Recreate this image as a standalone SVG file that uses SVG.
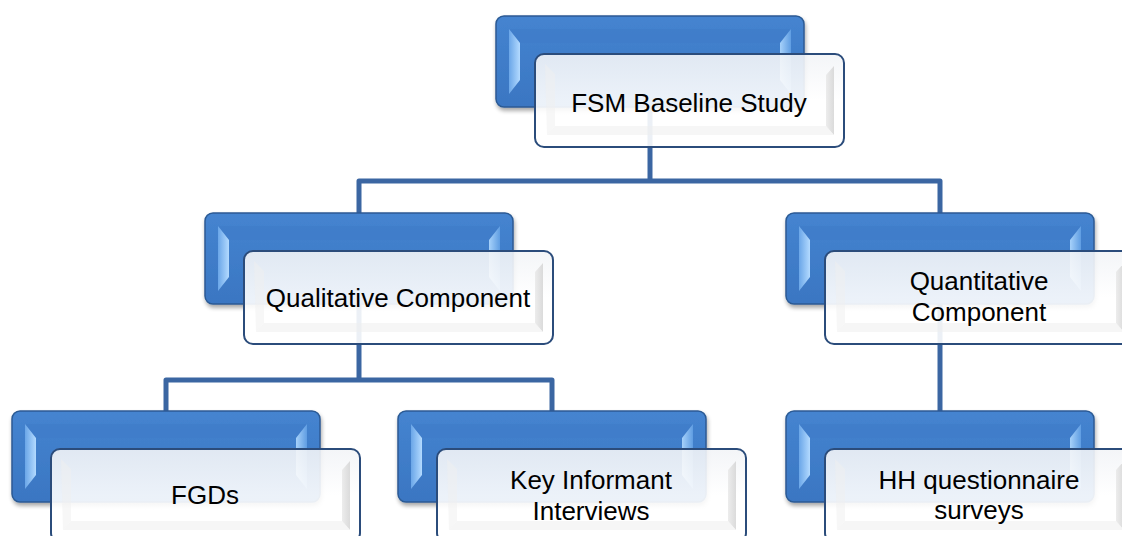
<svg xmlns="http://www.w3.org/2000/svg" xmlns:xlink="http://www.w3.org/1999/xlink" width="1122" height="536" viewBox="0 0 1122 536">
  <style>
    .conn { fill: none; stroke: #3B66A2; stroke-width: 5; stroke-linejoin: round; }
    .lbl { font-family: "Liberation Sans", Arial, sans-serif; font-size: 26px; fill: #000; text-anchor: middle; }
  </style>
  <defs>
    <linearGradient id="gBlue" x1="0" y1="0" x2="0" y2="1">
      <stop offset="0" stop-color="#4584D0"/>
      <stop offset="1" stop-color="#3A76C2"/>
    </linearGradient>
    <linearGradient id="gBevL" x1="0" y1="0" x2="1" y2="0">
      <stop offset="0" stop-color="#6AA6E8"/>
      <stop offset="1" stop-color="#B3DAFF"/>
    </linearGradient>
    <linearGradient id="gBevR" x1="0" y1="0" x2="1" y2="0">
      <stop offset="0" stop-color="#A6D1FA"/>
      <stop offset="1" stop-color="#5F9DE2"/>
    </linearGradient>
    <linearGradient id="gWhite" x1="0" y1="0" x2="0" y2="1">
      <stop offset="0" stop-color="#F2F4F7"/>
      <stop offset="0.5" stop-color="#FFFFFF"/>
      <stop offset="1" stop-color="#FFFFFF"/>
    </linearGradient>
    <linearGradient id="gWBevR" x1="0" y1="0" x2="1" y2="0">
      <stop offset="0" stop-color="#E8E8E8"/>
      <stop offset="1" stop-color="#D2D2D2"/>
    </linearGradient>
    <filter id="shadow" x="-5%" y="-10%" width="115%" height="130%">
      <feGaussianBlur in="SourceAlpha" stdDeviation="2"/>
      <feOffset dx="1" dy="3" result="b"/>
      <feComponentTransfer><feFuncA type="linear" slope="0.35"/></feComponentTransfer>
      <feMerge><feMergeNode/><feMergeNode in="SourceGraphic"/></feMerge>
    </filter>
    <g id="blueBox">
      <rect x="0" y="0" width="308" height="91" rx="8" fill="url(#gBlue)" stroke="#2C5A94" stroke-width="1.5" filter="url(#shadow)"/>
      <polygon points="13,13 295,13 284,27 24,27" fill="#3F7CC8" fill-opacity="0.6"/>
      <polygon points="13,13 24,27 24,64 13,78" fill="url(#gBevL)"/>
      <polygon points="295,13 284,27 284,64 295,78" fill="url(#gBevR)"/>
    </g>
    <g id="whiteBox">
      <rect x="0" y="0" width="309" height="93" rx="9" fill="url(#gWhite)" fill-opacity="0.9" stroke="#2B4C7B" stroke-width="2"/>
      <polygon points="299,12 291,21 291,72 299,81" fill="url(#gWBevR)" fill-opacity="0.8"/>
      <polygon points="12,81 299,81 291,72 20,72" fill="#EDEDED" fill-opacity="0.5"/>
      <polygon points="10,10 20,20 20,72 12,81" fill="#F0F0F0" fill-opacity="0.5"/>
    </g>
  </defs>
  <rect width="1122" height="536" fill="#FFFFFF"/>

  <g id="connectors">
    <path class="conn" d="M650,100 V181"/>
    <path class="conn" d="M359,213 V181 H940 V213"/>
    <path class="conn" d="M359,300 V380"/>
    <path class="conn" d="M166,411 V380 H552 V411"/>
    <path class="conn" d="M940,300 V411"/>
  </g>

  <g id="node-fsm">
    <use xlink:href="#blueBox" x="496" y="16"/>
    <use xlink:href="#whiteBox" x="535" y="54"/>
    <text class="lbl" x="689" y="112">FSM Baseline Study</text>
  </g>
  <g id="node-qualitative">
    <use xlink:href="#blueBox" x="205" y="213"/>
    <use xlink:href="#whiteBox" x="244" y="251"/>
    <text class="lbl" x="398" y="307">Qualitative Component</text>
  </g>
  <g id="node-quantitative">
    <use xlink:href="#blueBox" x="786" y="213"/>
    <use xlink:href="#whiteBox" x="825" y="251"/>
    <text class="lbl" x="979" y="290">Quantitative</text>
    <text class="lbl" x="979" y="321">Component</text>
  </g>
  <g id="node-fgds">
    <use xlink:href="#blueBox" x="12" y="411"/>
    <use xlink:href="#whiteBox" x="51" y="449"/>
    <text class="lbl" x="205" y="504">FGDs</text>
  </g>
  <g id="node-kii">
    <use xlink:href="#blueBox" x="398" y="411"/>
    <use xlink:href="#whiteBox" x="437" y="449"/>
    <text class="lbl" x="591" y="489">Key Informant</text>
    <text class="lbl" x="591" y="520">Interviews</text>
  </g>
  <g id="node-hh">
    <use xlink:href="#blueBox" x="786" y="411"/>
    <use xlink:href="#whiteBox" x="825" y="449"/>
    <text class="lbl" x="979" y="489">HH questionnaire</text>
    <text class="lbl" x="979" y="519">surveys</text>
  </g>
</svg>
